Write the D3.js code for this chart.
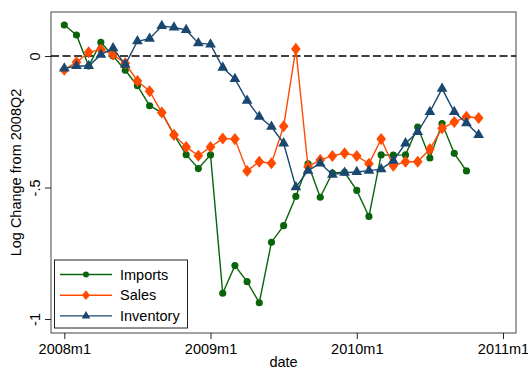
<!DOCTYPE html>
<html><head><meta charset="utf-8">
<script src="https://cdn.jsdelivr.net/npm/d3@7"></script>
<style>body{margin:0;background:#fff}svg{display:block}text{font-family:"Liberation Sans",Arial,sans-serif}</style>
</head><body>
<svg id="c" width="528" height="369"></svg>
<script>
const dates = ["2008m1","2008m2","2008m3","2008m4","2008m5","2008m6","2008m7","2008m8","2008m9","2008m10","2008m11","2008m12",
"2009m1","2009m2","2009m3","2009m4","2009m5","2009m6","2009m7","2009m8","2009m9","2009m10","2009m11","2009m12",
"2010m1","2010m2","2010m3","2010m4","2010m5","2010m6","2010m7","2010m8","2010m9","2010m10","2010m11"];
const imports = [0.118,0.08,-0.038,0.052,0.0,-0.054,-0.113,-0.189,-0.215,-0.30,-0.375,-0.428,
-0.376,-0.902,-0.797,-0.858,-0.938,-0.708,-0.645,-0.534,-0.41,-0.537,-0.445,-0.442,
-0.511,-0.61,-0.376,-0.377,-0.376,-0.27,-0.388,-0.257,-0.37,-0.437];
const sales = [-0.052,-0.024,0.014,0.025,0.006,-0.028,-0.095,-0.134,-0.215,-0.30,-0.346,-0.379,
-0.346,-0.314,-0.316,-0.437,-0.402,-0.408,-0.267,0.027,-0.421,-0.395,-0.38,-0.37,
-0.38,-0.41,-0.316,-0.417,-0.402,-0.402,-0.354,-0.275,-0.251,-0.231,-0.236];
const inventory = [-0.047,-0.038,-0.038,0.005,0.03,-0.033,0.056,0.066,0.114,0.109,0.099,0.049,
0.044,-0.044,-0.087,-0.17,-0.231,-0.269,-0.332,-0.499,-0.436,-0.408,-0.451,-0.444,
-0.441,-0.436,-0.43,-0.398,-0.332,-0.289,-0.213,-0.124,-0.213,-0.255,-0.30];
const xTickLabels = ["2008m1","2009m1","2010m1","2011m1"];
const yTicks = [0,-0.5,-1];
const yTickLabels = ["0","-.5","-1"];
const seriesNames = ["Imports","Sales","Inventory"];

const svg = d3.select("#c");
const L=51,R=516,T=12,B=333;
const allDates = dates.concat(["2010m12","2011m1"]);
const x = d3.scalePoint().domain(allDates).range([64.3,503]);
const y = d3.scaleLinear().domain([-1,0]).range([319,56]);

// frame
svg.append("rect").attr("x",L).attr("y",T).attr("width",R-L).attr("height",B-T)
  .attr("fill","#fff").attr("stroke","#444").attr("stroke-width",1);

// zero line
svg.append("line").attr("x1",L).attr("x2",R).attr("y1",y(0)).attr("y2",y(0))
  .attr("stroke","#000").attr("stroke-width",1.3).attr("stroke-dasharray","8,3.5");

// axes
const xAxis = d3.axisBottom(x).tickValues(xTickLabels).tickSize(6).tickPadding(5);
const gx = svg.append("g").attr("transform",`translate(0,${B})`).call(xAxis);
gx.select(".domain").remove();
gx.selectAll("line").attr("stroke","#222");
gx.selectAll("text").attr("font-size","14.5px").attr("fill","#000").attr("font-family","Liberation Sans, Arial, sans-serif");

const yAxis = d3.axisLeft(y).tickValues(yTicks).tickFormat((d,i)=>yTickLabels[i]).tickSize(6).tickPadding(0);
const gy = svg.append("g").attr("transform",`translate(${L},0)`).call(yAxis);
gy.select(".domain").remove();
gy.selectAll("line").attr("stroke","#222");
gy.selectAll("text").attr("font-size","14.5px").attr("fill","#000").attr("font-family","Liberation Sans, Arial, sans-serif")
  .attr("x",null).attr("dy",null).attr("text-anchor","middle")
  .attr("transform","translate(-11,0) rotate(-90)");

svg.append("text").attr("transform",`translate(21,${(T+B)/2}) rotate(-90)`).attr("text-anchor","middle")
  .attr("font-size","14.5px").text("Log Change from 2008Q2");
svg.append("text").attr("x",(L+R)/2).attr("y",367).attr("text-anchor","middle")
  .attr("font-size","14.5px").text("date");

const colors = ["#0a640a","#ff4a00","#1a476f"];
const symbols = [d3.symbolCircle,d3.symbolDiamond,d3.symbolTriangle];
const sizes = [40,52,50];
const legSizes = [28,34,32];
const data = [imports,sales,inventory];
const line = d3.line().x((d,i)=>x(dates[i])).y(d=>y(d));

data.forEach((vals,k)=>{
  svg.append("path").datum(vals).attr("d",line).attr("fill","none").attr("stroke",colors[k]).attr("stroke-width",1.4);
  svg.append("g").selectAll("path").data(vals).join("path")
    .attr("d",d3.symbol().type(symbols[k]).size(sizes[k]))
    .attr("transform",(d,i)=>`translate(${x(dates[i])},${y(d)})`+(k===1?" scale(1.25,0.9)":""))
    .attr("fill",colors[k]);
});

// legend
const lg = svg.append("g");
lg.append("rect").attr("x",54.5).attr("y",260).attr("width",133).attr("height",68)
  .attr("fill","#fff").attr("stroke","#222").attr("stroke-width",1);
seriesNames.forEach((n,k)=>{
  const yy = 274.5 + k*20.7;
  lg.append("line").attr("x1",60).attr("x2",112).attr("y1",yy).attr("y2",yy).attr("stroke",colors[k]).attr("stroke-width",1.4);
  lg.append("path").attr("d",d3.symbol().type(symbols[k]).size(legSizes[k]))
    .attr("transform",`translate(86,${yy})`+(k===1?" scale(1.25,0.9)":"")).attr("fill",colors[k]);
  lg.append("text").attr("x",120).attr("y",yy+5).attr("font-size","14.5px").text(n);
});
</script>
</body></html>
